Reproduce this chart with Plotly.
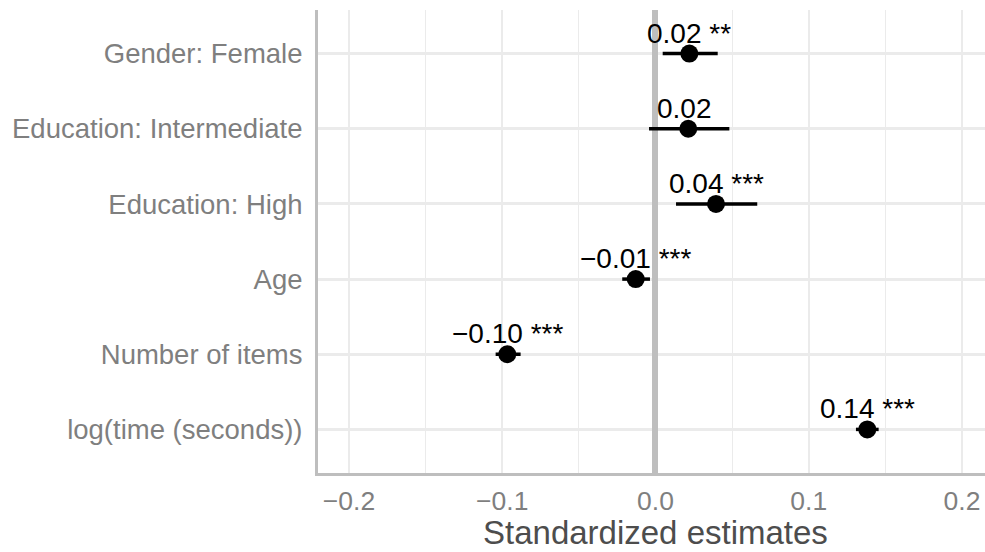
import plotly.graph_objects as go

# ---- data ----
terms = ["Gender: Female", "Education: Intermediate", "Education: High",
         "Age", "Number of items", "log(time (seconds))"]
estimates = [0.0221, 0.0214, 0.0395, -0.0129, -0.0967, 0.1382]
ci_low = [0.0047, -0.0042, 0.0134, -0.0217, -0.1043, 0.1308]
ci_high = [0.0406, 0.0482, 0.0664, -0.0036, -0.0880, 0.1456]
stars = ["**", "", "***", "***", "***", "***"]
x_tickvals = [-0.2, -0.1, 0.0, 0.1, 0.2]
x_ticktext = ["\u22120.2", "\u22120.1", "0.0", "0.1", "0.2"]

FONT = "Liberation Sans, Arial, Helvetica, sans-serif"

def fmt(v):
    s = f"{abs(v):.2f}"
    return ("\u2212" + s) if v < 0 else s

labels = [fmt(e) + "\u00a0" + s for e, s in zip(estimates, stars)]

fig = go.Figure()
fig.add_trace(go.Scatter(
    x=estimates, y=terms, mode="markers",
    marker=dict(color="black", size=18),
    error_x=dict(type="data", symmetric=False,
                 array=[h - e for h, e in zip(ci_high, estimates)],
                 arrayminus=[e - l for e, l in zip(estimates, ci_low)],
                 width=0, thickness=3.5, color="black"),
    showlegend=False, hoverinfo="skip",
))

for e, t, lab in zip(estimates, terms, labels):
    fig.add_annotation(x=e, y=t, text=lab, showarrow=False,
                       xanchor="center", yanchor="bottom", yshift=3,
                       font=dict(family=FONT, size=28, color="black"))

fig.add_annotation(xref="paper", yref="paper", x=0.5065, y=-0.129,
                   text="Standardized estimates", showarrow=False,
                   xanchor="center", yanchor="middle",
                   font=dict(family=FONT, size=33, color="#4D4D4D"))

fig.update_layout(
    width=985, height=552,
    margin=dict(l=318, r=0, t=10, b=79),
    paper_bgcolor="white", plot_bgcolor="white",
    font=dict(family=FONT),
    xaxis=dict(
        range=[-0.2202, 0.2150],
        tickvals=x_tickvals, ticktext=x_ticktext,
        showgrid=True, gridcolor="#EBEBEB", gridwidth=2.4,
        minor=dict(dtick=0.05, tick0=0, showgrid=True, gridcolor="#EBEBEB", gridwidth=1.4),
        zeroline=True, zerolinecolor="#BEBEBE", zerolinewidth=5.5,
        showline=True, linecolor="#BEBEBE", linewidth=3,
        ticks="", ticklabelstandoff=2,
        tickfont=dict(family=FONT, size=26.5, color="#7F7F7F"),
    ),
    yaxis=dict(
        type="category", categoryorder="array", categoryarray=terms,
        range=[5.58, -0.58],
        showgrid=True, gridcolor="#EBEBEB", gridwidth=2.6,
        zeroline=False,
        showline=True, linecolor="#BEBEBE", linewidth=3,
        ticks="", ticklabelstandoff=7,
        tickfont=dict(family=FONT, size=27.5, color="#7F7F7F"),
    ),
)

fig.write_html("out.html", config={"displayModeBar": False},
               post_script="document.body.style.margin='0';document.body.style.overflow='hidden';")
